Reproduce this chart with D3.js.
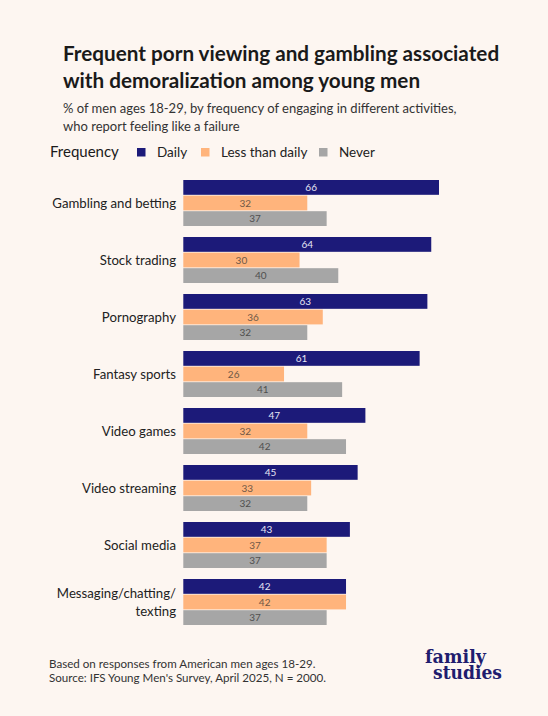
<!DOCTYPE html>
<html>
<head>
<meta charset="utf-8">
<script src="https://cdn.jsdelivr.net/npm/d3@7"></script>
<style>
  html, body { margin: 0; padding: 0; background: #fdf6f1; }
  svg { display: block; font-family: Lato, "Open Sans", sans-serif; }
</style>
</head>
<body>
<svg id="chart" width="548" height="716"></svg>
<script>
const categories = ["Gambling and betting", "Stock trading", "Pornography", "Fantasy sports",
  "Video games", "Video streaming", "Social media", "Messaging/chatting/texting"];
const categoryLines = [["Gambling and betting"], ["Stock trading"], ["Pornography"], ["Fantasy sports"],
  ["Video games"], ["Video streaming"], ["Social media"], ["Messaging/chatting/", "texting"]];
const seriesNames = ["Daily", "Less than daily", "Never"];
const daily = [66, 64, 63, 61, 47, 45, 43, 42];
const lessThanDaily = [32, 30, 36, 26, 32, 33, 37, 42];
const never = [37, 40, 32, 41, 42, 32, 37, 37];
const seriesValues = [daily, lessThanDaily, never];
const seriesColors = ["#1c1a79", "#ffb47c", "#a6a6a6"];
const labelColors = ["#e6e6f4", "#6f5846", "#4f4f4f"];

const svg = d3.select("#chart");
svg.append("rect").attr("width", 548).attr("height", 716).attr("fill", "#fdf6f1");

// Title
const title = svg.append("text").attr("font-size", 20.7).attr("font-weight", 700).attr("fill", "#1a1a1a");
title.append("tspan").attr("x", 63).attr("y", 61).text("Frequent porn viewing and gambling associated");
title.append("tspan").attr("x", 63).attr("y", 88).text("with demoralization among young men");

const sub = svg.append("text").attr("font-size", 13).attr("fill", "#333");
sub.append("tspan").attr("x", 63).attr("y", 113).text("% of men ages 18-29, by frequency of engaging in different activities,");
sub.append("tspan").attr("x", 63).attr("y", 131).text("who report feeling like a failure");

// Legend
svg.append("text").attr("x", 50).attr("y", 157).attr("font-size", 15).attr("fill", "#1a1a1a").text("Frequency");
const legendX = [137, 201, 319];
seriesNames.forEach((s, i) => {
  svg.append("rect").attr("x", legendX[i]).attr("y", 148).attr("width", 8.5).attr("height", 8.5).attr("fill", seriesColors[i]);
  svg.append("text").attr("x", legendX[i] + 20).attr("y", 157).attr("font-size", 13.5).attr("fill", "#222").text(s);
});

// Scales
const x = d3.scaleLinear().domain([0, 66]).range([183.3, 439]);
const y0 = d3.scaleBand().domain(categories).range([180, 625]).paddingInner(11 / 57);
const y1 = d3.scaleBand().domain(seriesNames).range([0, y0.bandwidth()]).paddingInner(0.05);

const groups = svg.append("g").selectAll("g").data(categories).join("g")
  .attr("transform", d => `translate(0,${y0(d)})`);

groups.each(function(cat, ci) {
  const g = d3.select(this);
  seriesNames.forEach((s, si) => {
    const v = seriesValues[si][ci];
    g.append("rect").attr("x", x(0)).attr("y", y1(s))
      .attr("width", x(v) - x(0)).attr("height", y1.bandwidth()).attr("fill", seriesColors[si]);
    g.append("text").attr("x", (x(0) + x(v)) / 2).attr("y", y1(s) + y1.bandwidth() / 2)
      .attr("dy", "0.36em").attr("text-anchor", "middle").attr("font-size", 10)
      .attr("fill", labelColors[si]).text(v);
  });
  const lines = categoryLines[ci];
  const mid = y0.bandwidth() / 2;
  const lh = 18;
  lines.forEach((ln, li) => {
    g.append("text").attr("x", 176).attr("y", mid + (li - (lines.length - 1) / 2) * lh)
      .attr("dy", "0.35em").attr("text-anchor", "end").attr("font-size", 13.2).attr("fill", "#222").text(ln);
  });
});

// Footer
const foot = svg.append("text").attr("font-size", 11.6).attr("fill", "#333");
foot.append("tspan").attr("x", 49).attr("y", 668).text("Based on responses from American men ages 18-29.");
foot.append("tspan").attr("x", 49).attr("y", 682).text("Source: IFS Young Men's Survey, April 2025, N = 2000.");

// Logo
const logo = svg.append("text").attr("font-family", "'DejaVu Serif', serif")
  .attr("font-weight", 700).attr("font-size", 18).attr("fill", "#201c6e");
logo.append("tspan").attr("x", 425).attr("y", 663)
  .attr("textLength", 61).attr("lengthAdjust", "spacingAndGlyphs").text("family");
logo.append("tspan").attr("x", 433).attr("y", 679)
  .attr("textLength", 69).attr("lengthAdjust", "spacingAndGlyphs").text("studies");
</script>
</body>
</html>
